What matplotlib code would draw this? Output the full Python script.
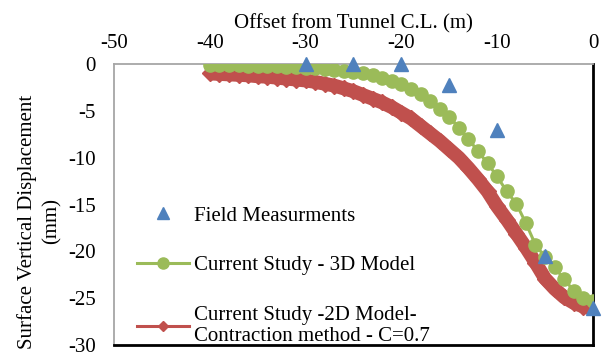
import matplotlib.pyplot as plt
from matplotlib.lines import Line2D

plt.rcParams['font.family'] = ['Liberation Serif', 'DejaVu Serif']
plt.rcParams['axes.unicode_minus'] = False

# Field measurements (m, mm)
field_x = [-30, -25, -20, -15, -10, -5, 0]
field_y = [0.0, 0.0, 0.0, -2.2, -7.0, -20.5, -26.0]

# Current study - 3D model
model3d_x = list(range(-40, 1))
model3d_y = [-0.05, -0.05, -0.1, -0.1, -0.15, -0.2, -0.2, -0.25, -0.3, -0.35,
             -0.4, -0.45, -0.5, -0.6, -0.7, -0.8, -1.0, -1.2, -1.5, -1.8,
             -2.1, -2.7, -3.2, -3.9, -4.8, -5.6, -6.8, -8.0, -9.3, -10.6,
             -12.0, -13.6, -14.9, -17.0, -19.3, -20.6, -21.7, -23.0, -24.2, -25.0,
             -25.3]

# Current study - 2D model, contraction method C=0.7
model2d_x = list(range(-40, 1))
model2d_y = [-1.0, -1.05, -1.1, -1.15, -1.2, -1.3, -1.35, -1.45, -1.55, -1.65,
             -1.75, -1.9, -2.1, -2.3, -2.6, -2.9, -3.3, -3.7, -4.1, -4.6,
             -5.2, -5.8, -6.6, -7.4, -8.2, -9.1, -10.0, -11.1, -12.3, -13.6,
             -15.2, -16.6, -18.1, -19.6, -21.2, -22.9, -24.0, -24.9, -25.5, -25.9,
             -26.1]

blue = '#4f81bd'
green = '#9bbb59'
red = '#c0504d'

fig = plt.figure(figsize=(6.05, 3.52), dpi=100)
ax = fig.add_axes([0.1884, 0.0199, 0.7917, 0.798])

ax.plot(model2d_x, model2d_y, color=red, lw=10, marker='D', ms=8.5,
        solid_capstyle='butt', zorder=2)
ax.plot(model3d_x, model3d_y, color=green, lw=2.2, marker='o', ms=9.5, zorder=3)
ax.plot(field_x, field_y, ls='none', color=blue, marker='^', ms=10,
        zorder=4, clip_on=False)

ax.set_xlim(-50, 0)
ax.set_ylim(-30, 0)
ax.set_xticks(range(-50, 1, 10))
ax.set_yticks(range(-30, 1, 5))
ax.xaxis.tick_top()
ax.xaxis.set_label_position('top')
ax.tick_params(labelsize=15, length=0)
ax.tick_params(axis='x', pad=8)
ax.tick_params(axis='y', pad=13)
ax.set_xlabel('Offset from Tunnel C.L. (m)', fontsize=15, labelpad=4)
ax.set_ylabel('Surface Vertical Displacement\n(mm)', fontsize=15,
              linespacing=1.35)
ax.yaxis.set_label_coords(-0.11, 0.44)

for side in ['top', 'left']:
    ax.spines[side].set_color('#a6a6a6')
    ax.spines[side].set_linewidth(1.3)
for side in ['right', 'bottom']:
    ax.spines[side].set_color('black')
    ax.spines[side].set_linewidth(2)

handles = [
    Line2D([], [], ls='none', color=blue, marker='^', ms=8),
    Line2D([], [], color=green, lw=2.2, marker='o', ms=8),
    Line2D([], [], color=red, lw=2.2, marker='D', ms=5),
]
labels = ['Field Measurments', 'Current Study - 3D Model',
          'Current Study -2D Model-\nContraction method - C=0.7']
ax.legend(handles, labels, loc='upper left', bbox_to_anchor=(0.048, 0.495),
          frameon=False, fontsize=15, handlelength=2.5, labelspacing=1.45,
          handletextpad=0.25, borderpad=0, borderaxespad=0)

plt.savefig('out.png', dpi=100)
